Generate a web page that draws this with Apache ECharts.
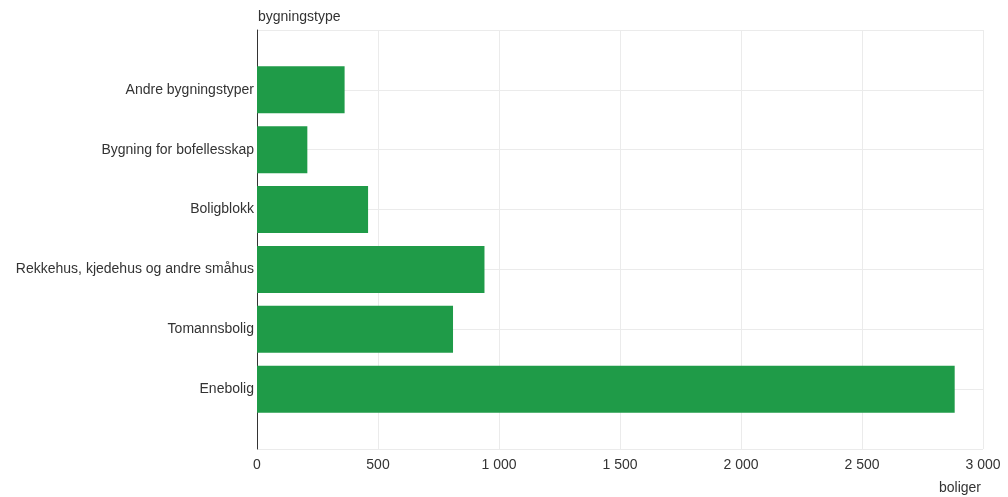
<!DOCTYPE html>
<html><head><meta charset="utf-8">
<script src="https://cdn.jsdelivr.net/npm/echarts@6/dist/echarts.min.js"></script>
<style>html,body{margin:0;padding:0;background:#fff}#c{width:1008px;height:497px}</style>
</head><body><div id="c"></div>
<script>
const categories = ["Enebolig","Tomannsbolig","Rekkehus, kjedehus og andre småhus","Boligblokk","Bygning for bofellesskap","Andre bygningstyper"];
const values = [2883, 810, 940, 459, 208, 362];
const xTicks = [0, 500, 1000, 1500, 2000, 2500, 3000];

const axisCats = [""].concat(categories, [""]);
const axisVals = [null].concat(values, [null]);
const fmt = v => String(v).replace(/\B(?=(\d{3})+(?!\d))/g, "\u00a0");
const FONT = 'Liberation Sans, Arial, sans-serif';
const TXT = '#333';

const chart = echarts.init(document.getElementById('c'));
chart.setOption({
  animation: false,
  grid: {left: 257, right: 25, top: 30, bottom: 48, containLabel: false},
  xAxis: {
    type: 'value', min: xTicks[0], max: xTicks[xTicks.length-1], interval: 500,
    name: 'boliger', nameLocation: 'end',
    nameTextStyle: {color: TXT, fontSize: 14, fontFamily: FONT, align: 'right', verticalAlign: 'top', padding: [32, 2, 0, 0]},
    nameGap: 0,
    axisLine: {show: false}, axisTick: {show: false},
    axisLabel: {color: TXT, fontSize: 14, fontFamily: FONT, margin: 9, formatter: fmt},
    splitLine: {show: true, lineStyle: {color: '#ebebeb', width: 1}}
  },
  yAxis: {
    type: 'category', data: axisCats, boundaryGap: false,
    name: 'bygningstype', nameLocation: 'end',
    nameTextStyle: {color: TXT, fontSize: 14, fontFamily: FONT, align: 'left', padding: [0, 0, 0, 1]},
    nameGap: 6,
    axisLine: {show: true, lineStyle: {color: '#333', width: 1}},
    axisTick: {show: false},
    axisLabel: {color: TXT, fontSize: 14, fontFamily: FONT, margin: 3},
    splitLine: {show: true, lineStyle: {color: '#ebebeb', width: 1}}
  },
  series: [{
    type: 'bar', data: axisVals, barWidth: 47,
    itemStyle: {color: '#1f9b48'}
  }]
});
</script></body></html>
